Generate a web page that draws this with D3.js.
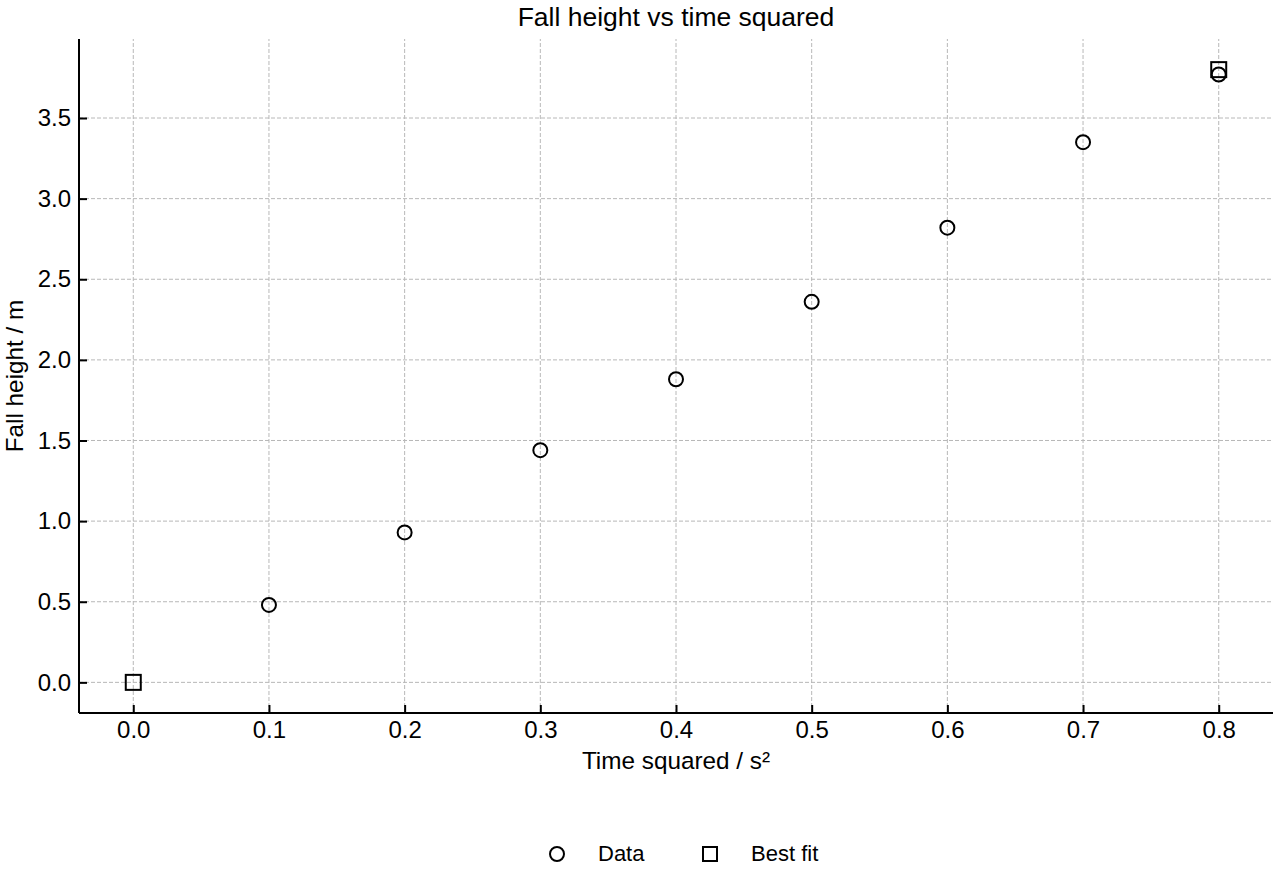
<!DOCTYPE html>
<html>
<head>
<meta charset="utf-8">
<script src="https://cdn.jsdelivr.net/npm/d3@7"></script>
<style>
  body { margin: 0; background: #fff; }
  svg { display: block; font-family: "Liberation Sans", Arial, Helvetica, sans-serif; }
</style>
</head>
<body>
<svg id="chart" width="1280" height="880"></svg>
<script>
// Data
const dataX = [0.1, 0.2, 0.3, 0.4, 0.5, 0.6, 0.7, 0.8];
const dataY = [0.48, 0.93, 1.44, 1.88, 2.36, 2.82, 3.35, 3.77];
const fitX = [0.0, 0.8];
const fitY = [0.0, 3.80];
const xTicks = [0.0, 0.1, 0.2, 0.3, 0.4, 0.5, 0.6, 0.7, 0.8];
const yTicks = [0.0, 0.5, 1.0, 1.5, 2.0, 2.5, 3.0, 3.5];
const seriesNames = ["Data", "Best fit"];
const titleText = "Fall height vs time squared";
const xLabel = "Time squared / s\u00B2";
const yLabel = "Fall height / m";

const W = 1280, H = 880;
const margin = { left: 79, right: 7, top: 39, bottom: 167 };
const svg = d3.select("#chart");

const x = d3.scaleLinear().domain([-0.04, 0.84]).range([margin.left, W - margin.right]);
const y = d3.scaleLinear().domain([-0.19, 3.99]).range([H - margin.bottom, margin.top]);

const x0 = margin.left, x1 = W - margin.right, y0 = H - margin.bottom, y1 = margin.top;

// grid
const grid = svg.append("g");
grid.selectAll("line.vx").data(xTicks).join("line")
  .attr("x1", d => x(d)).attr("x2", d => x(d)).attr("y1", y0).attr("y2", y1)
  .attr("stroke", "#b8b8b8").attr("stroke-width", 1).attr("stroke-dasharray", "4,2");
grid.selectAll("line.hy").data(yTicks).join("line")
  .attr("y1", d => y(d)).attr("y2", d => y(d)).attr("x1", x0).attr("x2", x1)
  .attr("stroke", "#b8b8b8").attr("stroke-width", 1).attr("stroke-dasharray", "4,2");

// axes
const xAxis = d3.axisBottom(x).tickValues(xTicks).tickFormat(d3.format(".1f")).tickSizeInner(-8).tickSizeOuter(0).tickPadding(8);
const yAxis = d3.axisLeft(y).tickValues(yTicks).tickFormat(d3.format(".1f")).tickSizeInner(-8).tickSizeOuter(0).tickPadding(8);

const gx = svg.append("g").attr("transform", `translate(0,${y0})`).call(xAxis);
const gy = svg.append("g").attr("transform", `translate(${x0},0)`).call(yAxis);
[gx, gy].forEach(g => {
  g.select(".domain").attr("stroke", "#000").attr("stroke-width", 2);
  g.selectAll(".tick line").attr("stroke", "#000").attr("stroke-width", 2);
  g.selectAll(".tick text").attr("fill", "#000").attr("font-size", 24)
    .attr("font-family", "'Liberation Sans', Arial, sans-serif");
});
gx.select(".domain").attr("d", `M${x0},0H${x1}`);
gy.select(".domain").attr("d", `M0,${y0}V${y1}`);

// markers
const sq = 15;
svg.append("g").selectAll("rect").data(fitX.map((d, i) => [d, fitY[i]])).join("rect")
  .attr("x", d => x(d[0]) - sq / 2).attr("y", d => y(d[1]) - sq / 2)
  .attr("width", sq).attr("height", sq)
  .attr("fill", "none").attr("stroke", "#000").attr("stroke-width", 2);
svg.append("g").selectAll("circle").data(dataX.map((d, i) => [d, dataY[i]])).join("circle")
  .attr("cx", d => x(d[0])).attr("cy", d => y(d[1])).attr("r", 7)
  .attr("fill", "none").attr("stroke", "#000").attr("stroke-width", 2);

// title and labels
svg.append("text").attr("x", (x0 + x1) / 2).attr("y", 26).attr("text-anchor", "middle")
  .attr("font-size", 26.5).attr("fill", "#000").text(titleText);
svg.append("text").attr("x", (x0 + x1) / 2).attr("y", 769).attr("text-anchor", "middle")
  .attr("font-size", 24.3).attr("fill", "#000").text(xLabel);
svg.append("text").attr("transform", `translate(23,${(y0 + y1) / 2}) rotate(-90)`)
  .attr("text-anchor", "middle").attr("font-size", 24.3).attr("fill", "#000").text(yLabel);

// legend
const leg = svg.append("g");
leg.append("circle").attr("cx", 557).attr("cy", 854).attr("r", 7)
  .attr("fill", "none").attr("stroke", "#000").attr("stroke-width", 2);
leg.append("text").attr("x", 598).attr("y", 861).attr("font-size", 22).attr("fill", "#000").text(seriesNames[0]);
leg.append("rect").attr("x", 710 - 7).attr("y", 854 - 7).attr("width", 14).attr("height", 14)
  .attr("fill", "none").attr("stroke", "#000").attr("stroke-width", 2);
leg.append("text").attr("x", 751).attr("y", 861).attr("font-size", 22).attr("fill", "#000").text(seriesNames[1]);
</script>
</body>
</html>
